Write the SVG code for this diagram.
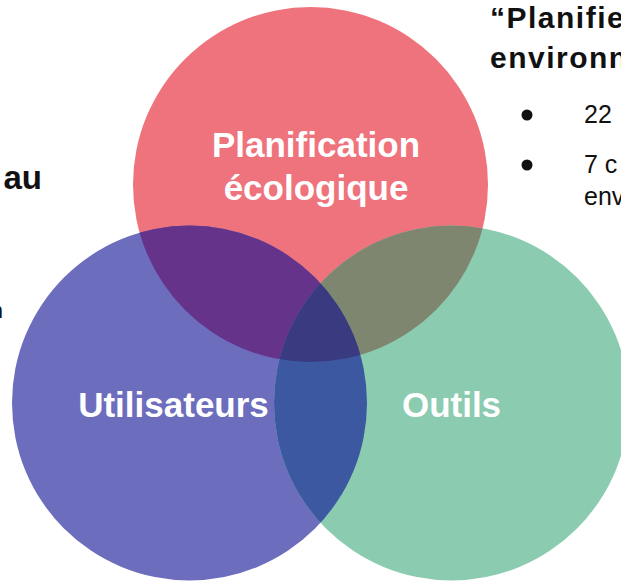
<svg xmlns="http://www.w3.org/2000/svg" width="621" height="582" viewBox="0 0 621 582">
<style>
.lbl{font-family:"Liberation Sans",Arial,sans-serif;font-weight:bold;font-size:35px;fill:#ffffff;text-anchor:middle}
.ttl{font-family:"Liberation Sans",Arial,sans-serif;font-weight:bold;font-size:30px;fill:#111111;letter-spacing:1.5px}
.txt{font-family:"Liberation Sans",Arial,sans-serif;font-size:25px;fill:#111111}
</style>
<defs>
<clipPath id="cR"><circle cx="310.5" cy="184.5" r="177.5"/></clipPath>
<clipPath id="cB"><circle cx="189.5" cy="403" r="177.5"/></clipPath>
<clipPath id="cG"><circle cx="451.5" cy="403" r="177.5"/></clipPath>
</defs>
<rect width="621" height="582" fill="#ffffff"/>
<g id="planification-ecologique">
<circle cx="310.5" cy="184.5" r="177.5" fill="#EE737C"/>
</g>
<g id="utilisateurs">
<circle cx="189.5" cy="403" r="177.5" fill="#6D6DBE"/>
</g>
<g id="outils">
<circle cx="451.5" cy="403" r="177.5" fill="#8BCCB1"/>
</g>
<g id="overlaps">
<circle cx="189.5" cy="403" r="177.5" fill="#66338A" clip-path="url(#cR)"/>
<circle cx="451.5" cy="403" r="177.5" fill="#7F866F" clip-path="url(#cR)"/>
<circle cx="451.5" cy="403" r="177.5" fill="#3C58A0" clip-path="url(#cB)"/>
<g clip-path="url(#cR)"><circle cx="451.5" cy="403" r="177.5" fill="#3A3A80" clip-path="url(#cB)"/></g>
</g>
<g id="labels">
<text class="lbl" x="316" y="157">Planification</text>
<text class="lbl" x="316" y="200">écologique</text>
<text class="lbl" x="173.5" y="417">Utilisateurs</text>
<text class="lbl" x="451.5" y="417">Outils</text>
</g>
<g id="side-text">
<text class="ttl" x="490" y="28">“Planifie</text>
<text class="ttl" x="490" y="68">environn</text>
<circle cx="527" cy="115" r="5.5" fill="#111111"/>
<text class="txt" x="584" y="123">22</text>
<circle cx="527" cy="165" r="5.5" fill="#111111"/>
<text class="txt" x="584" y="173">7 c</text>
<text class="txt" x="584" y="205">env</text>
<text class="ttl" x="42" y="189" text-anchor="end" style="letter-spacing:0;font-size:33px">au</text>
<text class="txt" x="3" y="318" text-anchor="end" style="font-size:22px">n</text>
</g>
</svg>
